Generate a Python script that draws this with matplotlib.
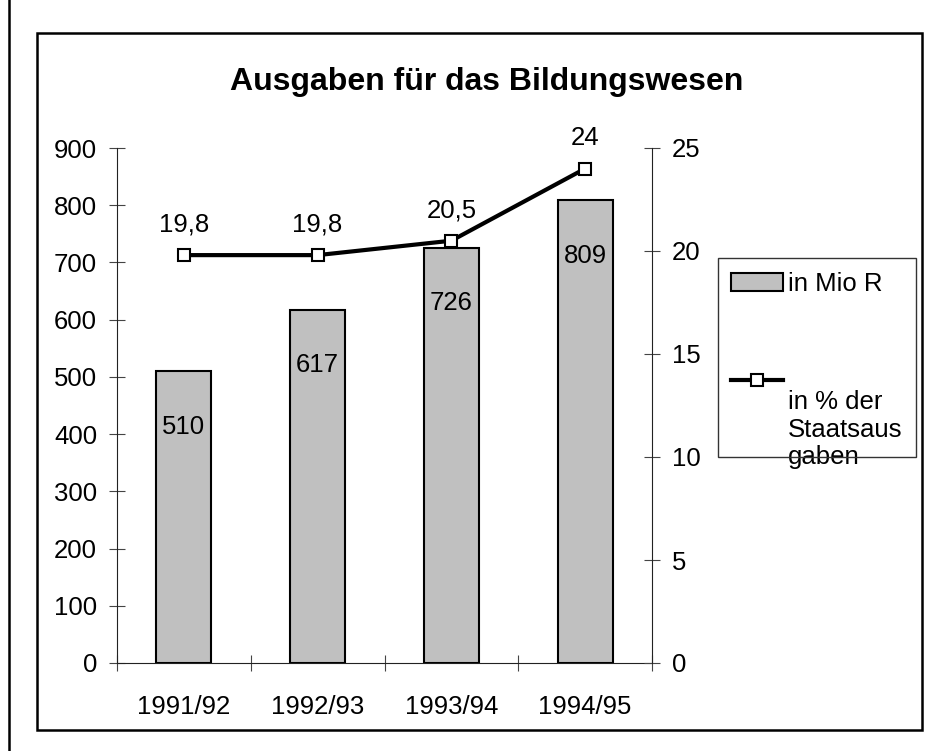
import numpy as np
import matplotlib.pyplot as plt
from matplotlib.patches import Rectangle
from matplotlib.legend_handler import HandlerLine2D

plt.rcParams['font.family'] = ['Liberation Sans', 'DejaVu Sans']

# data
jahre = ['1991/92', '1992/93', '1993/94', '1994/95']
mio_r = [510, 617, 726, 809]
prozent = [19.8, 19.8, 20.5, 24]

def komma(v):
    s = ('%g' % v)
    return s.replace('.', ',')

# legend line sits at the top of its 3-line label (like Excel)
class HandlerOben(HandlerLine2D):
    def create_artists(self, legend, orig_handle, xdescent, ydescent,
                       width, height, fontsize, trans):
        arts = super().create_artists(legend, orig_handle, xdescent, ydescent,
                                      width, height, fontsize, trans)
        for a in arts:
            a.set_ydata(np.asarray(a.get_ydata()) + 36)
        return arts

fig = plt.figure(figsize=(9.4, 7.51), dpi=100)
ax = fig.add_axes([117/940, 1-663/751, (652-117)/940, (663-148)/751])
ax2 = ax.twinx()

x = list(range(len(jahre)))
bars = ax.bar(x, mio_r, width=0.41, color='#c0c0c0', edgecolor='black',
              linewidth=1.5, label='in Mio R', zorder=2)
for xi, v in zip(x, mio_r):
    ax.annotate(str(v), (xi, v), xytext=(0, -40), textcoords='offset points',
                ha='center', va='center', fontsize=18.5)

line, = ax2.plot(x, prozent, color='black', linewidth=3, marker='s',
                 markersize=9, markerfacecolor='white', markeredgecolor='black',
                 markeredgewidth=1.5, label='in % der\nStaatsaus\ngaben', zorder=3)
for xi, v in zip(x, prozent):
    ax2.annotate(komma(v), (xi, v), xytext=(0, 22), textcoords='offset points',
                 ha='center', va='center', fontsize=18.5)

ax.set_xlim(-0.5, 3.5)
ax.set_ylim(0, 900)
ax2.set_ylim(0, 25)
ax.set_yticks(range(0, 901, 100))
ax2.set_yticks(range(0, 26, 5))

ax.set_xticks([i - 0.5 for i in range(len(jahre) + 1)])
ax.set_xticklabels([])
ax.set_xticks(x, minor=True)
ax.set_xticklabels(jahre, minor=True)
ax.tick_params(axis='x', which='major', direction='inout', length=11.5, width=0.8, color='#444444')
ax.tick_params(axis='x', which='minor', length=0, pad=23, labelsize=18.5)
ax.tick_params(axis='y', direction='inout', length=11.5, width=0.8, color='#444444',
               pad=8.6, labelsize=18.5)
ax2.tick_params(axis='y', direction='inout', length=11.5, width=0.8, color='#444444',
                pad=8.6, labelsize=18.5)

for a in (ax, ax2):
    a.spines['top'].set_visible(False)
    a.patch.set_visible(False)
ax.spines['right'].set_visible(False)
ax2.spines['left'].set_visible(False)
ax2.spines['bottom'].set_visible(False)
for a in (ax, ax2):
    for s in a.spines.values():
        s.set_linewidth(0.8)
        s.set_color('#222222')

leg = ax2.legend(handles=[bars, line], loc='upper left',
                 bbox_to_anchor=(721/940, 1-262/751), bbox_transform=fig.transFigure,
                 fontsize=18.5, frameon=False,
                 handlelength=2.0, handletextpad=0.2, labelspacing=3.64,
                 borderpad=0.4, borderaxespad=0,
                 handler_map={line: HandlerOben()})

# legend box
fig.patches.append(Rectangle((718/940, 1-457/751), 198/940, 199/751,
                             transform=fig.transFigure, fill=False,
                             edgecolor='#333333', linewidth=1.0))

fig.text(487/940, 1-82/751, 'Ausgaben für das Bildungswesen', ha='center',
         va='center', fontsize=23, fontweight='bold')

# rahmen
fig.patches.append(Rectangle((37/940, 1-730/751), (922-37)/940, (730-33)/751,
                             transform=fig.transFigure, fill=False,
                             edgecolor='black', linewidth=1.8))
fig.patches.append(Rectangle((9/940, -0.2), 1.2, 1.2+1-9/751,
                             transform=fig.transFigure, fill=False,
                             edgecolor='black', linewidth=1.8))

fig.savefig('out.png', dpi=100)
